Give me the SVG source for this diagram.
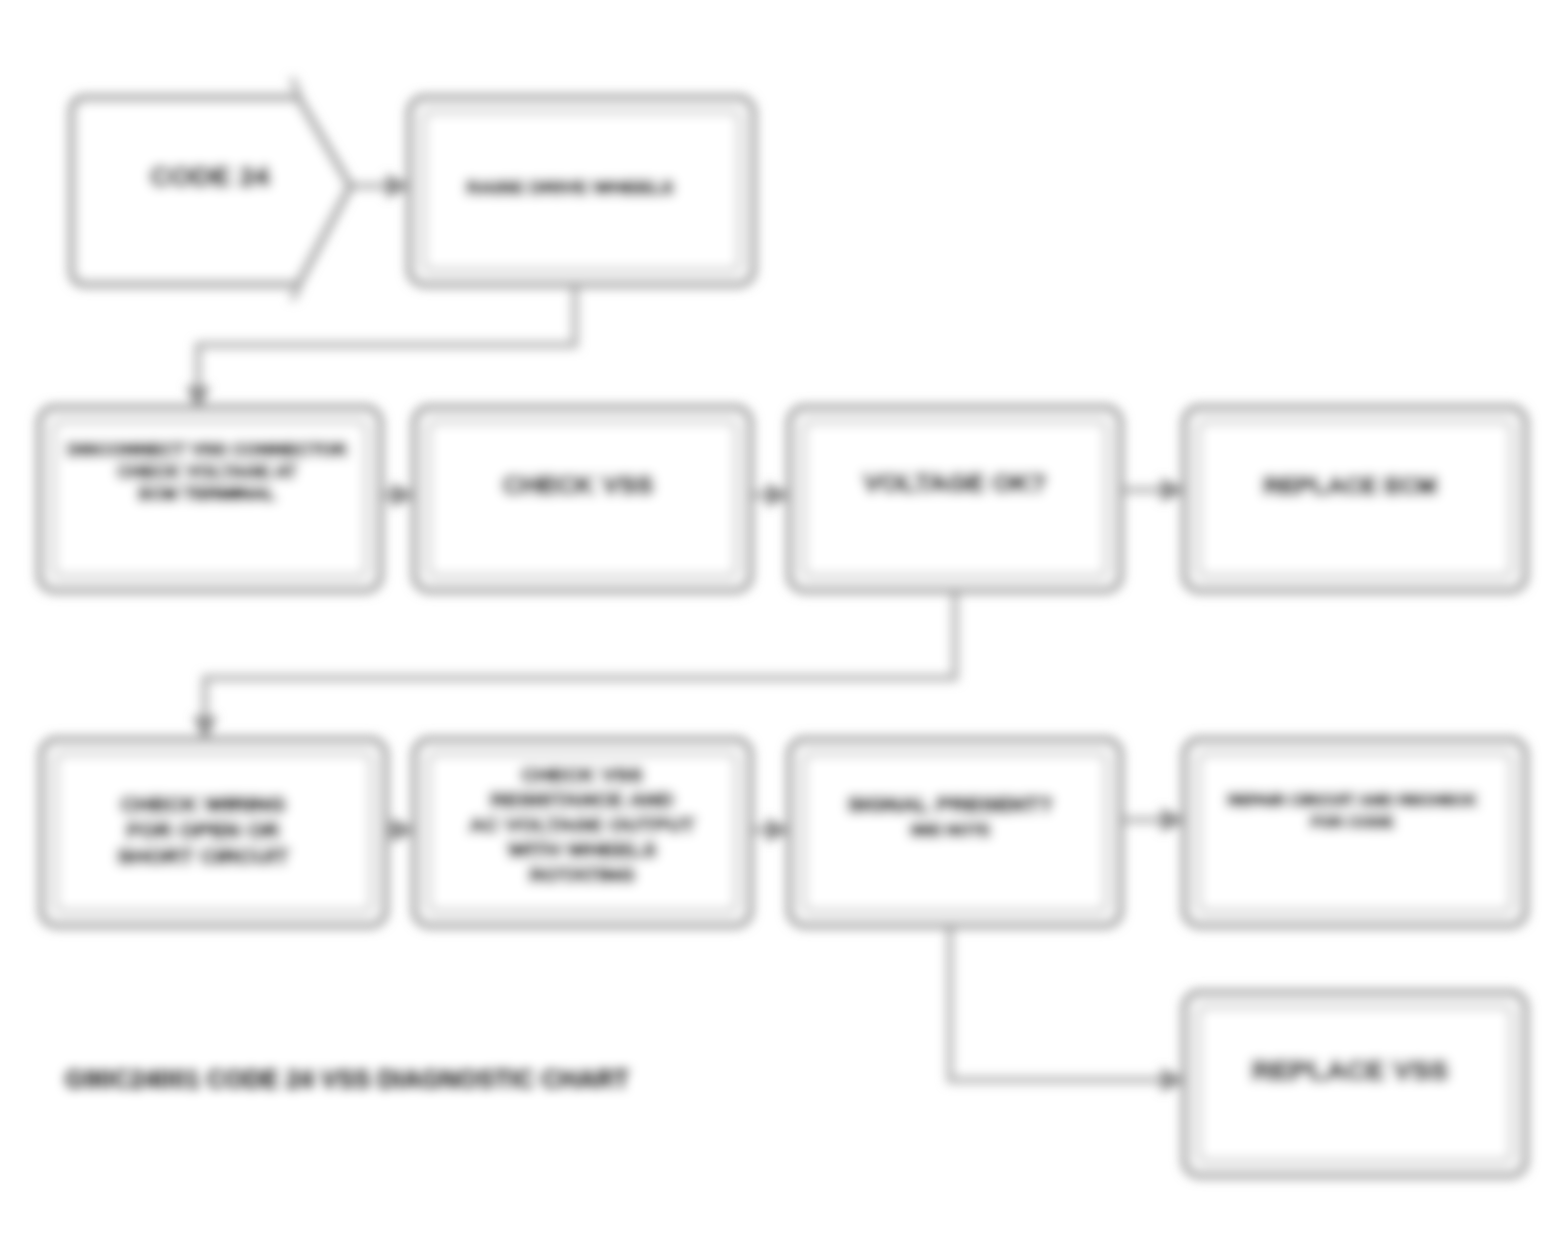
<svg xmlns="http://www.w3.org/2000/svg" width="1561" height="1249" viewBox="0 0 1561 1249">
<style>
.box{fill:#fff;stroke:#999;stroke-width:7}
.inner{fill:none;stroke:#bbb;stroke-width:4}
.t{font-family:"Liberation Sans",Arial,sans-serif;font-weight:bold;fill:#000;stroke:#000;stroke-width:1.5;text-anchor:middle}
.c{fill:none;stroke:#aaa;stroke-width:6}
</style>
<defs>
<filter id="blur" x="-5%" y="-5%" width="110%" height="110%"><feGaussianBlur stdDeviation="5.5"/></filter>
<marker id="ah" viewBox="0 0 10 10" refX="9" refY="5" markerWidth="4" markerHeight="4" orient="auto"><path d="M0 0 L10 5 L0 10 z" fill="#888"/></marker>
</defs>
<rect width="1561" height="1249" fill="#fff"/>
<g filter="url(#blur)">
<g id="connectors">
<path class="c" d="M352 186 H408" marker-end="url(#ah)"/>
<path class="c" d="M575 282 V345 H198 V408" marker-end="url(#ah)"/>
<path class="c" d="M380 495 H413" marker-end="url(#ah)"/>
<path class="c" d="M750 495 H788" marker-end="url(#ah)"/>
<path class="c" d="M1120 490 H1183" marker-end="url(#ah)"/>
<path class="c" d="M955 590 V678 H205 V738" marker-end="url(#ah)"/>
<path class="c" d="M385 830 H413" marker-end="url(#ah)"/>
<path class="c" d="M750 830 H788" marker-end="url(#ah)"/>
<path class="c" d="M1120 820 H1183" marker-end="url(#ah)"/>
<path class="c" d="M950 925 V1080 H1183" marker-end="url(#ah)"/>
</g>
<g id="n1">
<path class="box" d="M86 98 H298 L350 186 L298 284 H86 Q72 284 72 270 V112 Q72 98 86 98 Z"/>
<path class="c" d="M292 78 L300 98 M292 300 L300 284"/>
<text class="t" x="210" y="186" font-size="28">CODE 24</text>
</g>
<g id="n2">
<rect class="box" x="410" y="98" width="343" height="186" rx="14"/>
<rect class="inner" x="424" y="112" width="315" height="158" rx="6"/>
<text class="t" x="570" y="194" font-size="19" font-weight="normal" stroke-width="0.8">RAISE DRIVE WHEELS</text>
</g>
<g id="n3">
<rect class="box" x="40" y="408" width="340" height="182" rx="14"/>
<rect class="inner" x="54" y="422" width="312" height="154" rx="6"/>
<text class="t" x="207" y="456" font-size="18">DISCONNECT VSS CONNECTOR</text>
<text class="t" x="207" y="478" font-size="18">CHECK VOLTAGE AT</text>
<text class="t" x="207" y="500" font-size="18">ECM TERMINAL</text>
</g>
<g id="n4">
<rect class="box" x="415" y="408" width="335" height="182" rx="14"/>
<rect class="inner" x="429" y="422" width="307" height="154" rx="6"/>
<text class="t" x="578" y="494" font-size="26">CHECK VSS</text>
</g>
<g id="n5">
<rect class="box" x="790" y="408" width="330" height="182" rx="14"/>
<rect class="inner" x="804" y="422" width="302" height="154" rx="6"/>
<text class="t" x="955" y="492" font-size="26">VOLTAGE OK?</text>
</g>
<g id="n6">
<rect class="box" x="1185" y="408" width="340" height="182" rx="14"/>
<rect class="inner" x="1199" y="422" width="312" height="154" rx="6"/>
<text class="t" x="1350" y="494" font-size="24">REPLACE ECM</text>
</g>
<g id="n7">
<rect class="box" x="42" y="740" width="343" height="185" rx="14"/>
<rect class="inner" x="56" y="754" width="315" height="157" rx="6"/>
<text class="t" x="203" y="812" font-size="22">CHECK WIRING</text>
<text class="t" x="203" y="838" font-size="22">FOR OPEN OR</text>
<text class="t" x="203" y="864" font-size="22">SHORT CIRCUIT</text>
</g>
<g id="n8">
<rect class="box" x="415" y="740" width="335" height="185" rx="14"/>
<rect class="inner" x="429" y="754" width="307" height="157" rx="6"/>
<text class="t" x="582" y="782" font-size="21">CHECK VSS</text>
<text class="t" x="582" y="807" font-size="21">RESISTANCE AND</text>
<text class="t" x="582" y="832" font-size="21">AC VOLTAGE OUTPUT</text>
<text class="t" x="582" y="857" font-size="21">WITH WHEELS</text>
<text class="t" x="582" y="882" font-size="21">ROTATING</text>
</g>
<g id="n9">
<rect class="box" x="790" y="740" width="330" height="185" rx="14"/>
<rect class="inner" x="804" y="754" width="302" height="157" rx="6"/>
<text class="t" x="950" y="812" font-size="22">SIGNAL PRESENT?</text>
<text class="t" x="950" y="836" font-size="16">SEE NOTE</text>
</g>
<g id="n10">
<rect class="box" x="1185" y="740" width="340" height="185" rx="14"/>
<rect class="inner" x="1199" y="754" width="312" height="157" rx="6"/>
<text class="t" x="1352" y="806" font-size="16">REPAIR CIRCUIT AND RECHECK</text>
<text class="t" x="1352" y="828" font-size="16">FOR CODE</text>
</g>
<g id="n11">
<rect class="box" x="1185" y="993" width="340" height="182" rx="14"/>
<rect class="inner" x="1199" y="1007" width="312" height="154" rx="6"/>
<text class="t" x="1350" y="1080" font-size="28">REPLACE VSS</text>
</g>
<g id="caption">
<text x="65" y="1088" font-family="'Liberation Sans',Arial,sans-serif" font-weight="bold" font-size="25" fill="#000">G90C24001 CODE 24 VSS DIAGNOSTIC CHART</text>
</g>
</g>
</svg>
